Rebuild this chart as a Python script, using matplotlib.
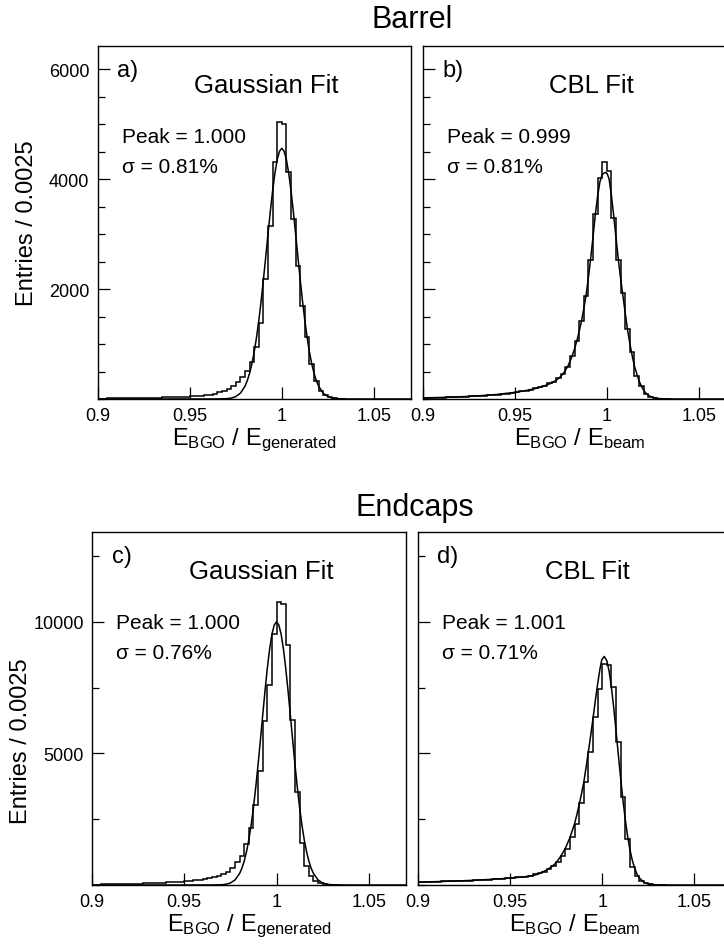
# Energy resolution histograms (Barrel / Endcaps) with Gaussian and CBL fits.
import matplotlib.pyplot as plt
import numpy as np
from matplotlib.ticker import FixedLocator, MultipleLocator

plt.rcParams['font.family'] = ['Liberation Sans', 'DejaVu Sans']
plt.rcParams['mathtext.fontset'] = 'custom'
plt.rcParams['mathtext.rm'] = 'Liberation Sans'
plt.rcParams['mathtext.it'] = 'Liberation Sans:italic'

# Histogram binning (Entries / 0.0025, first bin starts at 0.9)
hist_start = 0.9
bin_width = 0.0025

# Bin contents, one value per bin from 0.9 upwards
counts_a = [8, 9, 10, 11, 12, 13, 14, 15, 16, 18, 20, 22, 24, 26, 28, 31, 34, 37, 41, 45,
            50, 56, 62, 70, 80, 97, 121, 152, 182, 230,
            303, 394, 515, 679, 939, 1390, 2190, 3140, 4310, 5040,
            5010, 4133, 3273, 2424, 1697, 1121, 640, 330, 150, 65,
            28, 12, 5, 2]
counts_b = [19, 21, 23, 25, 27, 29, 32, 35, 38, 42, 46, 50, 55, 60, 66, 73, 80, 88, 97, 109,
            121, 139, 152, 170, 194, 212, 242, 285, 315, 376,
            455, 576, 788, 1061, 1424, 1879, 2533, 3364, 4018, 4315,
            4152, 3285, 2533, 1927, 1273, 848, 412, 242, 91, 40,
            15, 6, 2, 1]
counts_c = [15, 18, 21, 24, 27, 31, 35, 39, 44, 49, 55, 61, 68, 75, 83, 91, 100, 109, 118, 128,
            142, 158, 175, 195, 220, 250, 290, 340, 410, 500,
            640, 860, 1113, 1557, 2151, 3037, 4340, 6238, 7594, 9550,
            10757, 10669, 9100, 6250, 3520, 1600, 734, 354, 164, 60,
            20, 8, 3, 1]
counts_d = [112, 116, 120, 124, 128, 133, 138, 143, 149, 155, 162, 169, 177, 185, 194, 204, 215, 227, 240, 253,
            268, 285, 300, 320, 354, 405, 456, 506, 607, 709,
            860, 1089, 1367, 1810, 2316, 3113, 3923, 5062, 6367, 7442,
            8391, 8350, 7530, 5442, 3329, 1760, 700, 330, 164, 70,
            25, 10, 4, 1]

# Fit curves (x, entries)
fit_x_gauss = [0.90, 0.96, 0.965, 0.97, 0.9725, 0.975, 0.9775, 0.98,
               0.98125, 0.9825, 0.98375, 0.985, 0.98625, 0.9875, 0.98875, 0.99,
               0.99125, 0.9925, 0.99375, 0.995, 0.99625, 0.9975, 0.99875, 1.0,
               1.00125, 1.0025, 1.00375, 1.005, 1.00625, 1.0075, 1.00875, 1.01,
               1.01125, 1.0125, 1.01375, 1.015, 1.01625, 1.0175, 1.01875, 1.02,
               1.0225, 1.025, 1.0275, 1.03, 1.035, 1.04, 1.07]
fit_y_a = [0, 0, 1, 6, 16, 44, 106, 233,
           334, 468, 640, 856, 1118, 1427, 1779, 2168,
           2581, 3001, 3410, 3786, 4107, 4353, 4507, 4560,
           4507, 4353, 4107, 3786, 3410, 3001, 2581, 2168,
           1779, 1427, 1118, 856, 640, 468, 334, 233,
           106, 44, 16, 6, 1, 0, 0]
fit_y_c = [0, 0, 1, 9, 27, 76, 192, 439,
           641, 914, 1271, 1724, 2283, 2950, 3720, 4578,
           5499, 6444, 7370, 8226, 8960, 9524, 9879, 10000,
           9879, 9524, 8960, 8226, 7370, 6444, 5499, 4578,
           3720, 2950, 2283, 1724, 1271, 914, 641, 439,
           192, 76, 27, 9, 1, 0, 0]
fit_x_b = [0.90, 0.91, 0.92, 0.93, 0.94, 0.95, 0.955, 0.96, 0.965, 0.97,
           0.9725, 0.975, 0.97625, 0.9775, 0.97875, 0.98, 0.98125, 0.9825, 0.98375, 0.985,
           0.98625, 0.9875, 0.98875, 0.99, 0.99125, 0.9925, 0.99375, 0.995, 0.99625, 0.9975,
           0.99875, 0.9995, 1.00025, 1.00125, 1.0025, 1.00375, 1.005, 1.00625, 1.0075, 1.00875,
           1.01, 1.01125, 1.0125, 1.01375, 1.015, 1.01625, 1.0175, 1.01875, 1.02, 1.02125,
           1.0225, 1.02375, 1.025, 1.0275, 1.03, 1.035, 1.07]
fit_y_b = [20, 28, 40, 57, 82, 120, 148, 180, 225, 290,
           340, 410, 460, 520, 590, 685, 790, 915, 1060, 1230,
           1420, 1640, 1890, 2210, 2560, 2950, 3350, 3690, 3950, 4080,
           4115, 4120, 4095, 4000, 3700, 3330, 2930, 2540, 2190, 1880,
           1560, 1260, 1010, 790, 600, 460, 330, 235, 160, 105,
           70, 45, 28, 11, 4, 0, 0]
fit_x_d = [0.90, 0.91, 0.92, 0.93, 0.94, 0.95, 0.955, 0.96, 0.9625, 0.965,
           0.9675, 0.97, 0.9725, 0.975, 0.9775, 0.98, 0.9825, 0.985, 0.98625, 0.9875,
           0.98875, 0.99, 0.99125, 0.9925, 0.99375, 0.995, 0.99625, 0.9975, 0.99875, 0.99975,
           1.0011, 1.0025, 1.00375, 1.005, 1.00625, 1.0075, 1.00875, 1.01, 1.01125, 1.0125,
           1.01375, 1.015, 1.01625, 1.0175, 1.01875, 1.02, 1.0225, 1.025, 1.0275, 1.03,
           1.035, 1.07]
fit_y_d = [110, 128, 150, 178, 215, 262, 292, 330, 360, 410,
           490, 575, 690, 840, 1090, 1390, 1800, 2330, 2670, 3050,
           3460, 3900, 4470, 5070, 5680, 6330, 7000, 7630, 8200, 8560,
           8683, 8520, 8114, 7498, 6723, 5849, 4937, 4045, 3214, 2479,
           1855, 1347, 950, 649, 430, 277, 105, 35, 10, 3,
           0, 0]

panel_letters = ['a)', 'b)', 'c)', 'd)']
fit_names = ['Gaussian Fit', 'CBL Fit', 'Gaussian Fit', 'CBL Fit']
peak_texts = ['Peak = 1.000', 'Peak = 0.999', 'Peak = 1.000', 'Peak = 1.001']
sigma_texts = ['σ = 0.81%', 'σ = 0.81%', 'σ = 0.76%', 'σ = 0.71%']
x_labels = [r'$\mathrm{E_{BGO}\ /\ E_{generated}}$', r'$\mathrm{E_{BGO}\ /\ E_{beam}}$',
            r'$\mathrm{E_{BGO}\ /\ E_{generated}}$', r'$\mathrm{E_{BGO}\ /\ E_{beam}}$']
x_ticks = [0.9, 0.95, 1.0, 1.05]
x_tick_labels = ['0.9', '0.95', '1', '1.05']

W, H = 724, 953
fig = plt.figure(figsize=(W / 100, H / 100), dpi=100)


def add_box(left, top, width, height):
    # axes from pixel box (left, top, width, height)
    return fig.add_axes([left / W, 1 - (top + height) / H, width / W, height / H])


def draw_panel(ax, counts, fit_x, fit_y, ymax, major, minor, idx, show_ylab, ylab_y):
    edges = hist_start + bin_width * np.arange(len(counts) + 1)
    ax.stairs(counts, edges, color='black', lw=1.1)
    ax.plot(fit_x, fit_y, color='black', lw=1.1)

    ax.set_xlim(0.9, 1.07)
    ax.set_ylim(0, ymax)
    ax.set_xticks(x_ticks)
    ax.set_xticklabels(x_tick_labels)
    ax.yaxis.set_major_locator(FixedLocator(major))
    ax.yaxis.set_minor_locator(MultipleLocator(minor))
    ax.tick_params(axis='both', which='major', direction='in', length=8.5, width=0.9,
                   labelsize=13, pad=6)
    ax.tick_params(axis='y', which='minor', direction='in', length=5, width=0.9)
    ax.tick_params(axis='y', labelleft=show_ylab)
    for s in ax.spines.values():
        s.set_linewidth(1.0)

    ax.text(0.063, 0.915, panel_letters[idx], transform=ax.transAxes, fontsize=17)
    ax.text(0.54, 0.87, fit_names[idx], transform=ax.transAxes, fontsize=18.5, ha='center')
    ax.text(0.078, 0.729, peak_texts[idx], transform=ax.transAxes, fontsize=15)
    ax.text(0.078, 0.643, sigma_texts[idx], transform=ax.transAxes, fontsize=15)
    ax.text(0.5, -0.128, x_labels[idx], transform=ax.transAxes, fontsize=17,
            ha='center', va='baseline')
    if show_ylab:
        ax.text(-0.227, ylab_y, 'Entries / 0.0025', transform=ax.transAxes, fontsize=17,
                rotation=90, ha='center', va='center')


ax_a = add_box(97.7, 47, 313, 353)
ax_b = add_box(422.7, 47, 313, 353)
ax_c = add_box(92, 533.3, 313.7, 352.7)
ax_d = add_box(417.7, 533.3, 313.7, 352.7)

draw_panel(ax_a, counts_a, fit_x_gauss, fit_y_a, 6420, [2000, 4000, 6000], 500, 0, True, 0.5)
draw_panel(ax_b, counts_b, fit_x_b, fit_y_b, 6420, [2000, 4000, 6000], 500, 1, False, 0.5)
draw_panel(ax_c, counts_c, fit_x_gauss, fit_y_c, 13400, [5000, 10000], 2500, 2, True, 0.41)
draw_panel(ax_d, counts_d, fit_x_d, fit_y_d, 13400, [5000, 10000], 2500, 3, False, 0.41)

fig.text(412 / W, 1 - 28 / H, 'Barrel', ha='center', va='baseline', fontsize=22)
fig.text(415 / W, 1 - 516 / H, 'Endcaps', ha='center', va='baseline', fontsize=22)

fig.savefig('out.png', dpi=100)
